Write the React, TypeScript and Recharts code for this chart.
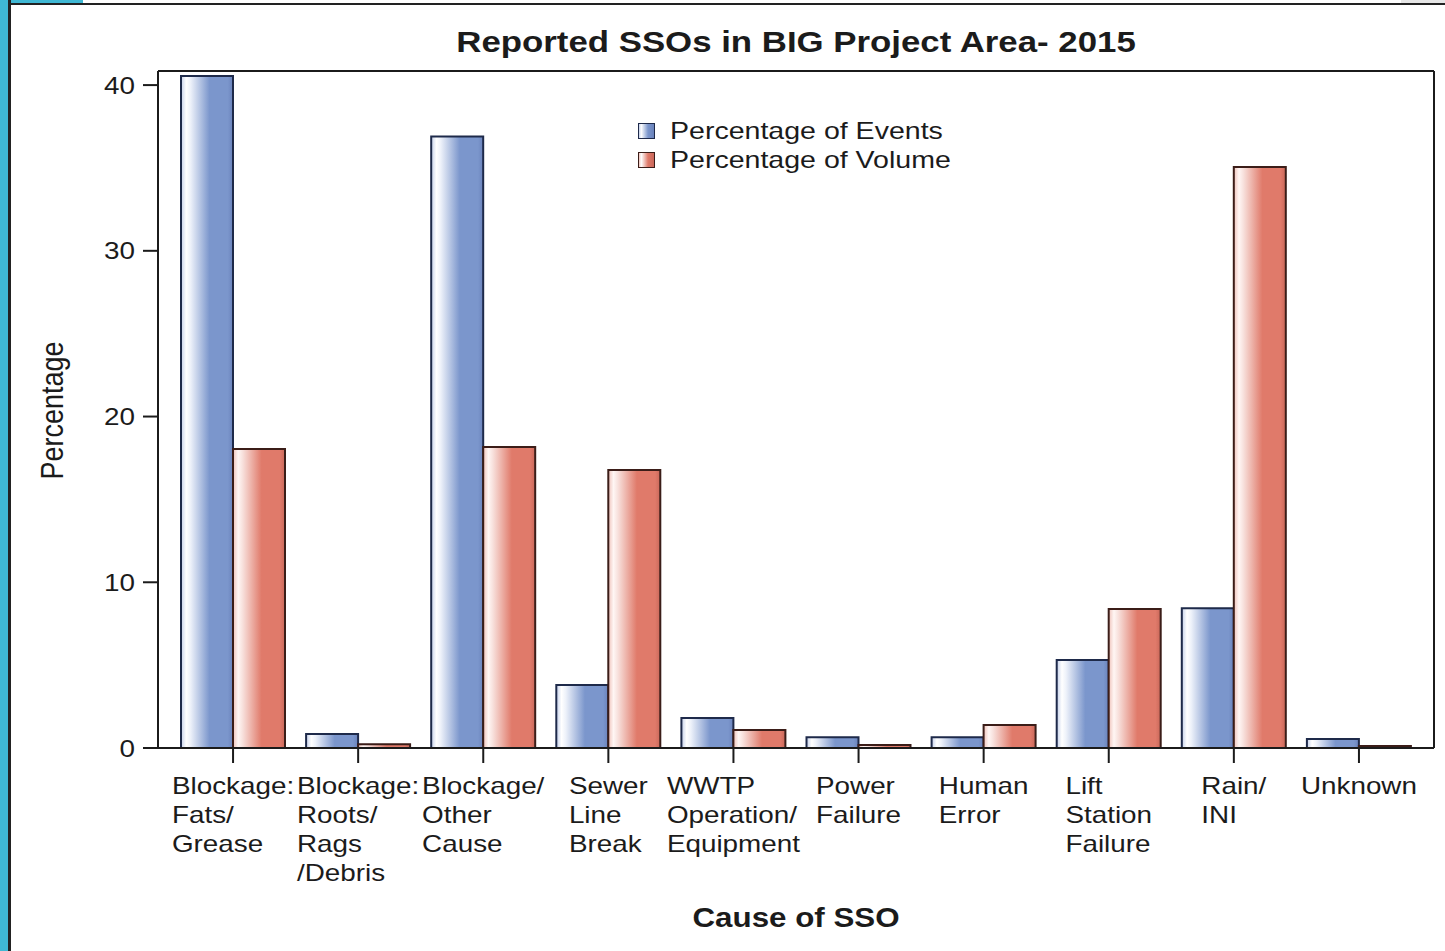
import React from "react";
import { BarChart, Bar, XAxis, YAxis, Legend, CartesianGrid } from "recharts";

// categories on the x axis, "\n" marks the line breaks of the tick label
const causes = [
  "Blockage:\nFats/\nGrease",
  "Blockage:\nRoots/\nRags\n/Debris",
  "Blockage/\nOther\nCause",
  "Sewer\nLine\nBreak",
  "WWTP\nOperation/\nEquipment",
  "Power\nFailure",
  "Human\nError",
  "Lift\nStation\nFailure",
  "Rain/\nINI",
  "Unknown",
];
const pctEvents = [40.55, 0.84, 36.9, 3.8, 1.81, 0.65, 0.65, 5.31, 8.43, 0.54];
const pctVolume = [18.04, 0.22, 18.16, 16.77, 1.09, 0.18, 1.39, 8.39, 35.05, 0.12];
const yTicks = [0, 10, 20, 30, 40];

const data = causes.map((cause, i) => ({
  cause,
  events: pctEvents[i],
  volume: pctVolume[i],
}));

const W = 1445;
const H = 951;
const STRETCH = 1.16; // the source picture is a bit wider than tall
const FONT = "'Liberation Sans', Arial, sans-serif";
const INK = "#1b1b1b";
const TEAL = "#3fb8d4";

const swatch: Record<string, string> = {
  events: "linear-gradient(90deg, #c4d0ea 0%, #ffffff 15%, #7b96cc 60%, #6a82bb 100%)",
  volume: "linear-gradient(90deg, #efc2ba 0%, #ffffff 15%, #e07a6a 60%, #c9685a 100%)",
};
const swatchBorder: Record<string, string> = {
  events: "#1e2a4a",
  volume: "#3b1d18",
};

let ctx: CanvasRenderingContext2D | null = null;
function textWidth(s: string, size: number) {
  if (!ctx) ctx = document.createElement("canvas").getContext("2d");
  if (!ctx) return s.length * size * 0.55;
  ctx.font = `${size}px "Liberation Sans"`;
  return ctx.measureText(s).width;
}

function CauseTick({ x, y, payload }: any) {
  const lines = String(payload.value).split("\n");
  const w = Math.max(...lines.map((l) => textWidth(l, 24))) * STRETCH;
  const left = x - w / 2;
  return (
    <g>
      {lines.map((l, i) => (
        <text
          key={i}
          transform={`translate(${left},${y + 31 + i * 29}) scale(${STRETCH},1)`}
          fontSize={24}
          fontFamily={FONT}
          fill={INK}
        >
          {l}
        </text>
      ))}
    </g>
  );
}

function PctTick({ x, y, payload }: any) {
  return (
    <text
      transform={`translate(${x},${y + 8.6}) scale(${STRETCH},1)`}
      textAnchor="end"
      fontSize={24}
      fontFamily={FONT}
      fill={INK}
    >
      {payload.value}
    </text>
  );
}

function XTitle({ viewBox }: any) {
  const cx = viewBox ? viewBox.x + viewBox.width / 2 : 796;
  return (
    <text
      transform={`translate(${cx},926.5) scale(${STRETCH},1)`}
      textAnchor="middle"
      fontSize={27}
      fontWeight="bold"
      fontFamily={FONT}
      fill={INK}
    >
      Cause of SSO
    </text>
  );
}

function YTitle({ viewBox }: any) {
  const cy = viewBox ? viewBox.y + viewBox.height / 2 : 410;
  return (
    <text
      transform={`translate(62.5,${cy + 1}) scale(${STRETCH},1) rotate(-90)`}
      textAnchor="middle"
      fontSize={27}
      fontFamily={FONT}
      fill={INK}
    >
      Percentage
    </text>
  );
}

function LegendBox({ payload }: any) {
  return (
    <div style={{ fontFamily: FONT }}>
      {(payload || []).map((p: any) => (
        <div
          key={p.dataKey}
          style={{ display: "flex", alignItems: "center", height: 29 }}
        >
          <span
            style={{
              width: 15,
              height: 14,
              border: `1.5px solid ${swatchBorder[p.dataKey]}`,
              background: swatch[p.dataKey],
              marginRight: 15,
              flex: "none",
            }}
          />
          <span
            style={{
              fontSize: 24,
              color: INK,
              whiteSpace: "nowrap",
              display: "inline-block",
              transform: `scaleX(${STRETCH * 1.025})`,
              transformOrigin: "left center",
            }}
          >
            {p.value}
          </span>
        </div>
      ))}
    </div>
  );
}

// frame lines along the top and right edge of the plot area
const topEdge = (p: any) => [p?.offset?.top ?? 71];
const rightEdge = (p: any) =>
  p?.offset ? [p.offset.left + p.offset.width] : [1434];

export default function App() {
  return (
    <div
      style={{
        position: "absolute",
        left: 0,
        top: 0,
        width: W,
        height: H,
        background: "#fff",
        overflow: "hidden",
      }}
    >
      {/* slide frame around the picture */}
      <div style={{ position: "absolute", left: 0, top: 0, width: 8, height: H, background: TEAL }} />
      <div style={{ position: "absolute", left: 0, top: 0, width: 83, height: 3, background: TEAL }} />
      <div style={{ position: "absolute", left: 1401, top: 0, width: 44, height: 3, background: "#e6e6e6" }} />
      <div style={{ position: "absolute", left: 8, top: 0, width: 3, height: H, background: "#222" }} />
      <div style={{ position: "absolute", left: 8, top: 3, width: W - 8, height: 2, background: "#222" }} />

      <div
        style={{
          position: "absolute",
          left: 796,
          top: 27,
          fontFamily: FONT,
          fontSize: 30,
          lineHeight: "30px",
          fontWeight: "bold",
          color: INK,
          whiteSpace: "nowrap",
          transform: `translateX(-50%) scaleX(${STRETCH})`,
        }}
      >
        Reported SSOs in BIG Project Area- 2015
      </div>

      <BarChart
        width={W}
        height={H}
        data={data}
        margin={{ top: 71, right: 11, bottom: 0, left: 0 }}
        barCategoryGap={10.5}
        barGap={0}
        style={{ position: "absolute", left: 0, top: 0 }}
      >
        <defs>
          <linearGradient id="gEvents" x1="0" y1="0" x2="1" y2="0">
            <stop offset="0%" stopColor="#c4d0ea" />
            <stop offset="10%" stopColor="#ffffff" />
            <stop offset="18%" stopColor="#eef2fa" />
            <stop offset="55%" stopColor="#7b96cc" />
            <stop offset="90%" stopColor="#7b96cc" />
            <stop offset="100%" stopColor="#6a82bb" />
          </linearGradient>
          <linearGradient id="gVolume" x1="0" y1="0" x2="1" y2="0">
            <stop offset="0%" stopColor="#efc2ba" />
            <stop offset="10%" stopColor="#fff6f4" />
            <stop offset="18%" stopColor="#f8e2de" />
            <stop offset="55%" stopColor="#e07a6a" />
            <stop offset="90%" stopColor="#e07a6a" />
            <stop offset="100%" stopColor="#c9685a" />
          </linearGradient>
        </defs>

        <CartesianGrid
          stroke={INK}
          strokeWidth={2}
          horizontalCoordinatesGenerator={topEdge}
          verticalCoordinatesGenerator={rightEdge}
        />

        <XAxis
          dataKey="cause"
          height={203}
          interval={0}
          padding={{ left: 12.5, right: 12.5 }}
          tickSize={15}
          tickMargin={0}
          tick={<CauseTick />}
          axisLine={{ stroke: INK, strokeWidth: 2 }}
          tickLine={{ stroke: INK, strokeWidth: 2 }}
          label={<XTitle />}
        />
        <YAxis
          width={158}
          domain={[0, 40.85]}
          ticks={yTicks}
          allowDataOverflow
          tickSize={15}
          tickMargin={8}
          tick={<PctTick />}
          axisLine={{ stroke: INK, strokeWidth: 2 }}
          tickLine={{ stroke: INK, strokeWidth: 2 }}
          label={<YTitle />}
        />
        <Legend
          layout="vertical"
          align="center"
          verticalAlign="middle"
          content={<LegendBox />}
          wrapperStyle={{ left: 638, top: 116.5, width: 360, height: 58 }}
        />
        <Bar
          dataKey="events"
          name="Percentage of Events"
          fill="url(#gEvents)"
          stroke="#1e2a4a"
          strokeWidth={2}
          isAnimationActive={false}
        />
        <Bar
          dataKey="volume"
          name="Percentage of Volume"
          fill="url(#gVolume)"
          stroke="#3b1d18"
          strokeWidth={2}
          isAnimationActive={false}
        />
      </BarChart>
    </div>
  );
}
